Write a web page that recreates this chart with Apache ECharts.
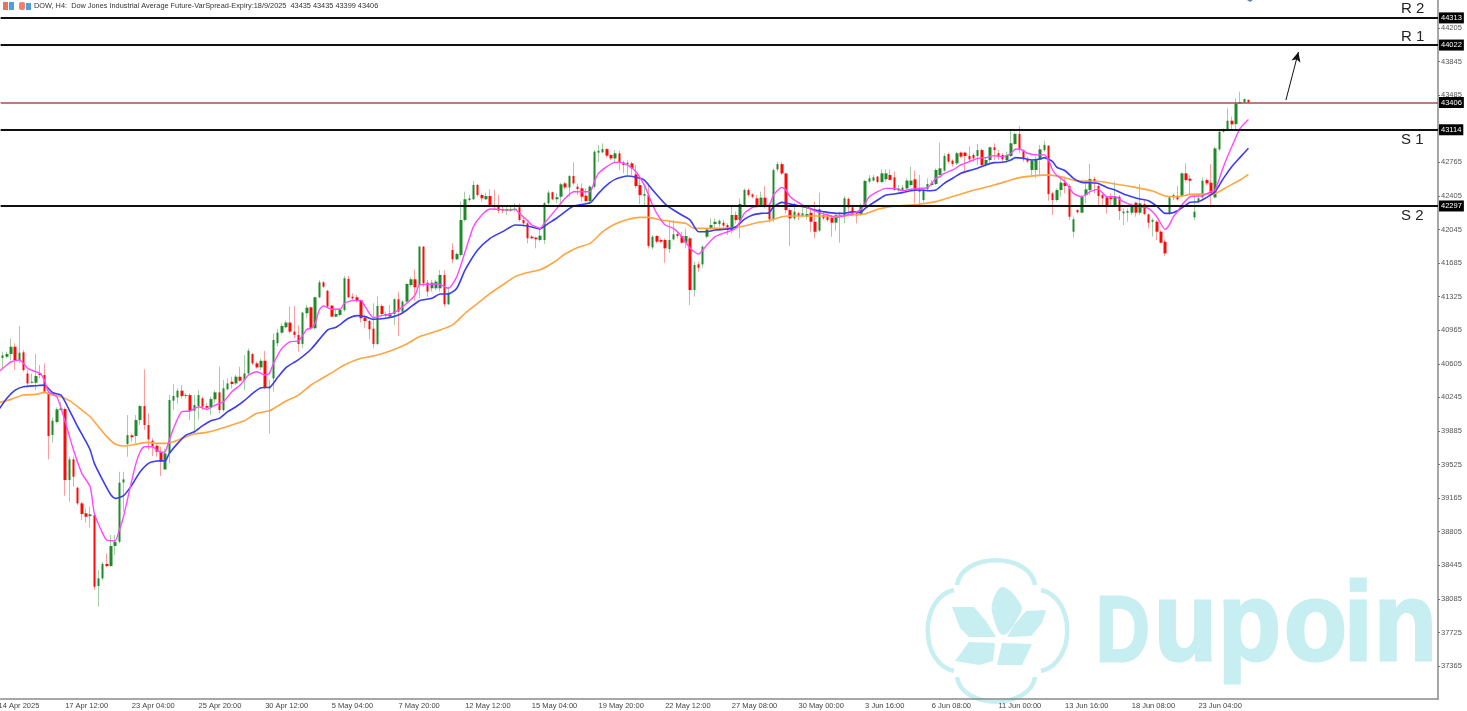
<!DOCTYPE html>
<html><head><meta charset="utf-8">
<style>html,body{margin:0;padding:0;background:#fff;overflow:hidden}#c{width:1467px;height:711px;filter:blur(.4px)}</style>
<script src="https://cdn.jsdelivr.net/npm/echarts@6/dist/echarts.min.js"></script>
</head><body><div id="c"></div>
<script>
const tickLabels=['14 Apr 2025','17 Apr 12:00','23 Apr 04:00','25 Apr 20:00','30 Apr 12:00','5 May 04:00','7 May 20:00','12 May 12:00','15 May 04:00','19 May 20:00','22 May 12:00','27 May 08:00','30 May 00:00','3 Jun 16:00','6 Jun 08:00','11 Jun 00:00','13 Jun 16:00','18 Jun 08:00','23 Jun 04:00'];
const priceTicks=[37365,37725,38085,38445,38805,39165,39525,39885,40245,40605,40965,41325,41685,42045,42405,42765,43125,43485,43845,44205];
const opens=[40667,40681,40710,40788,40645,40728,40502,40402,40402,40502,40485,40288,39842,39981,40109,40120,39359,39581,39277,39109,
39002,38973,38984,38223,38305,38459,38437,38652,38698,39334,39745,39838,39831,40002,40152,39949,39781,39727,39663,39473,
39645,40210,40245,40317,40260,40270,40102,40152,40235,40152,40138,40224,40299,40109,40331,40413,40395,40467,40431,40502,
40710,40610,40567,40638,40342,40449,40825,40939,40997,41047,40950,40914,40818,41147,41211,40986,41318,41479,41389,41229,
41111,41129,41182,41515,41325,41318,41289,41100,41064,40982,40818,41225,41122,41111,41139,41297,41164,41272,41450,41511,
41450,41861,41475,41415,41415,41415,41557,41243,41825,41725,41772,42147,42361,42369,42522,42415,42369,42404,42308,42290,
42261,42247,42247,42254,42283,42147,42111,41968,41958,41933,41933,42326,42444,42369,42396,42539,42496,42618,42504,42486,
42407,42350,42504,42868,42872,42907,42843,42807,42861,42764,42743,42754,42636,42521,42407,42414,41853,41975,41932,41932,
41835,41939,41996,41975,41903,41950,41396,41671,41671,41968,42057,42103,42103,42118,42093,42039,42200,42146,42307,42468,
42421,42378,42296,42386,42296,42153,42689,42746,42646,42253,42164,42218,42189,42182,42225,42128,42032,42200,42182,42171,
42118,42201,42183,42372,42283,42218,42208,42308,42558,42569,42612,42554,42583,42629,42604,42462,42469,42486,42522,42583,
42469,42361,42476,42522,42533,42629,42676,42854,42783,42754,42869,42869,42833,42844,42833,42897,42737,42790,42926,42862,
42844,42790,42833,42962,43069,42897,42797,42683,42683,42797,42897,42943,42432,42361,42468,42547,42511,42021,42254,42225,
42414,42468,42586,42511,42414,42389,42389,42296,42396,42218,42225,42225,42332,42225,42318,42207,42128,42128,42021,41914,
42211,42389,42407,42407,42647,42589,42175,42343,42389,42575,42546,42389,42904,43093,43111,43211,43175,43397,43408,43435];
const closes=[40695,40710,40788,40645,40724,40538,40395,40413,40474,40485,40306,39831,39995,40117,40127,39359,39581,39395,39109,38995,
38966,38991,38216,38305,38459,38437,38652,38698,39331,39366,39841,39817,40002,40152,39949,39795,39716,39663,39556,39645,
40217,40260,40317,40260,40270,40102,40163,40270,40145,40134,40227,40299,40109,40342,40395,40388,40467,40424,40502,40745,
40610,40567,40638,40352,40360,40860,40939,41011,41047,40950,40914,40818,41154,41207,40986,41318,41479,41432,41218,41111,
41139,41182,41522,41318,41307,41282,41093,41064,40975,40818,41225,41139,41139,41147,41297,41164,41272,41461,41511,41425,
41861,41468,41379,41475,41486,41557,41243,41368,41725,41783,42147,42369,42379,42522,42415,42379,42404,42308,42290,42247,
42247,42261,42261,42268,42147,42111,41951,41951,41940,41979,42326,42440,42369,42390,42529,42496,42618,42539,42479,42396,
42350,42504,42879,42889,42907,42836,42807,42861,42764,42736,42761,42700,42511,42414,42425,41868,41968,41914,41914,41843,
41932,41993,41975,41903,41975,41396,41664,41635,41860,42046,42093,42128,42139,42086,42039,42200,42146,42318,42468,42414,
42396,42296,42386,42296,42153,42682,42746,42646,42253,42164,42236,42189,42218,42211,42128,42021,42264,42164,42146,42118,
42200,42183,42379,42283,42201,42197,42308,42565,42594,42604,42554,42647,42647,42576,42469,42486,42494,42569,42569,42462,
42451,42469,42533,42540,42683,42701,42833,42772,42747,42862,42826,42833,42797,42808,42897,42737,42790,42926,42897,42826,
42797,42844,42969,43069,42897,42797,42772,42783,42797,42904,42951,42425,42361,42468,42547,42511,42182,42154,42229,42396,
42475,42586,42557,42404,42379,42307,42371,42396,42243,42236,42243,42307,42225,42325,42211,42118,42146,42021,41903,41789,
42389,42414,42368,42647,42575,42568,42236,42379,42568,42539,42414,42914,43093,43111,43211,43172,43397,43411,43443,43406];
const highs=[40735,40735,40878,40824,41010,40753,40538,40502,40710,40592,40610,40306,40031,40138,40199,40138,39609,39609,39288,39127,
39055,39073,39002,38394,38484,38573,38770,38770,39448,39448,40056,39852,40056,40163,40545,40074,39806,39745,39716,39699,
40270,40388,40342,40377,40288,40288,40270,40324,40252,40181,40252,40324,40574,40431,40449,40467,40485,40574,40699,40770,
40724,40628,40663,40745,40431,40931,40975,41039,41068,41218,41225,41021,41164,41236,41218,41325,41504,41493,41397,41236,
41182,41200,41547,41547,41361,41343,41297,41129,41075,41254,41325,41243,41164,41236,41307,41379,41289,41468,41532,41618,
41868,41868,41504,41504,41504,41611,41611,41432,41897,41797,42344,42451,42415,42565,42533,42433,42440,42476,42469,42415,
42290,42283,42283,42326,42326,42183,42129,41986,41968,42058,42344,42462,42451,42433,42546,42557,42629,42764,42539,42539,
42486,42521,42897,42950,42968,42914,42854,42897,42889,42782,42789,42771,42736,42611,42539,42539,41986,41986,41950,41950,
42146,42146,42021,42021,42057,41968,41700,41700,41878,42057,42164,42164,42153,42146,42111,42289,42236,42378,42486,42486,
42432,42414,42450,42511,42325,42700,42771,42771,42654,42271,42332,42236,42271,42289,42271,42343,42439,42236,42218,42200,
42218,42236,42404,42390,42308,42236,42326,42576,42629,42629,42619,42690,42690,42690,42665,42522,42522,42594,42719,42676,
42629,42486,42594,42576,42701,42976,42862,42869,42797,42880,42880,42876,42933,42862,42962,42915,42808,42933,42969,42897,
42862,42880,43112,43083,43155,42905,42826,42797,42826,42951,42997,42950,42450,42486,42611,42611,42532,42182,42261,42414,
42575,42747,42611,42539,42432,42396,42432,42557,42414,42271,42271,42325,42343,42532,42361,42218,42164,42146,42039,41939,
42404,42432,42511,42657,42754,42629,42414,42396,42604,42593,42747,42932,43111,43129,43343,43254,43450,43522,43450,43435];
const lows=[40556,40663,40645,40538,40610,40520,40377,40395,40324,40449,40288,39581,39759,39967,40109,39191,39127,39288,39091,38930,
38902,38852,38180,38001,38287,38423,38430,38555,38680,39020,39609,39770,39752,39949,39895,39681,39616,39609,39402,39466,
39538,40109,40181,40235,40235,40002,39859,40009,40109,40109,40056,40181,40074,40092,40324,40342,40377,40413,40324,40485,
40592,40556,40538,40331,39859,40306,40789,40925,40986,40932,40879,40736,40771,41093,40968,40975,41307,41415,41211,41104,
41104,41118,41164,41307,41289,41261,41047,40986,40868,40771,40807,41118,41093,41093,41021,40904,41139,41261,41432,41282,
41307,41432,41325,41379,41397,41379,41218,41236,41683,41718,41754,42129,42344,42361,42397,42344,42361,42290,42254,42218,
42218,42201,42236,42236,42129,42076,41897,41940,41843,41915,41890,42308,42361,42326,42307,42475,42396,42521,42414,42343,
42332,42332,42486,42772,42861,42818,42789,42754,42682,42646,42629,42629,42486,42318,42307,41843,41832,41896,41903,41689,
41796,41925,41950,41896,41843,41235,41324,41592,41639,41950,42039,42057,42075,42057,41986,42003,42111,41950,42289,42396,
42378,42282,42289,42271,42118,42128,42664,42629,42218,41868,42146,42146,42175,42153,42021,41950,42021,42146,42128,41968,
42032,41904,42111,42201,42183,42111,42190,42290,42540,42558,42540,42540,42558,42569,42462,42451,42462,42469,42504,42326,
42297,42333,42469,42504,42522,42612,42665,42754,42719,42737,42808,42654,42772,42772,42737,42726,42719,42754,42790,42790,
42772,42762,42819,42951,42862,42772,42754,42629,42594,42629,42880,42354,42200,42343,42396,42432,42146,41961,42218,42218,
42325,42414,42432,42296,42296,42218,42307,42289,42146,42093,42128,42200,42182,42200,42200,42057,41968,41932,41896,41764,
42200,42361,42354,42396,42557,42414,42146,42325,42379,42521,42282,42379,42890,43082,43104,43111,43118,43390,43397,43399];
const magentaBars=[0,2,3,5,6,7,9,10,11,12,14,16,18,20,22,23,25,26,28,29,30,32,33,34,35,37,38,39,40,41,42,44,46,48,50,52,54,56,58,60,62,64,65,66,68,70,72,74,75,76,77,78,80,82,83,85,87,88,90,92,94,96,98,100,101,103,105,106,108,110,112,114,116,118,120,122,124,125,127,128,130,131,133,134,136,138,140,142,143,144,146,148,149,151,153,155,156,157,158,160,162,164,166,168,170,172,175,177,179,181,183,185,186,188,189,190,192,194,197,199,201,205,207,208,209,211,213,215,217,219,221,223,225,226,227,229,231,233,235,237,239,241,243,244,245,247,249,251,252,253,254,256,258,260,262,264,266,268,270,272,274,276,278,280,281,282,283,284,286,289,291,292,294,296,298,300];
const magentaVals=[40520,40592,40627,40645,40610,40556,40520,40502,40431,40306,40252,39984,39681,39431,39288,39002,38787,38716,38709,38823,38966,39359,39538,39663,39716,39716,39681,39656,39663,39788,39913,40092,40099,40145,40117,40163,40199,40306,40377,40485,40520,40485,40502,40610,40770,40842,40850,40975,40986,41039,41182,41225,41190,41190,41254,41282,41282,41218,41100,41122,41136,41182,41254,41343,41450,41457,41461,41457,41415,41540,41808,42076,42201,42265,42261,42254,42261,42218,42140,42093,42058,42111,42218,42271,42379,42450,42450,42450,42557,42646,42718,42764,42764,42736,42664,42521,42414,42307,42218,42093,42057,41968,41843,41782,41878,41968,42021,42057,42218,42282,42296,42307,42414,42496,42468,42396,42332,42282,42225,42200,42175,42218,42261,42326,42397,42451,42486,42486,42461,42476,42486,42494,42594,42612,42647,42683,42737,42772,42808,42815,42837,42826,42862,42905,42908,42862,42844,42845,42790,42683,42625,42557,42432,42396,42450,42475,42396,42396,42343,42307,42289,42271,42182,42046,42093,42182,42236,42307,42396,42407,42450,42468,42718,42932,43129,43225];
const blueBars=[0,2,4,6,9,11,13,15,17,19,21,22,23,25,27,28,30,32,34,36,38,40,41,43,45,47,49,51,53,55,57,59,61,63,65,67,69,72,75,79,81,84,86,88,90,93,96,98,101,104,106,108,110,112,115,118,121,124,127,130,132,134,138,142,144,146,148,151,153,155,157,160,161,164,166,168,170,172,175,177,179,181,183,185,186,188,190,192,194,196,198,201,203,205,207,208,211,213,215,217,219,221,223,225,227,229,231,233,235,237,239,241,243,244,246,248,250,251,253,254,256,258,260,262,264,266,268,270,272,274,276,278,280,281,283,285,286,288,290,292,294,296,298,300];
const blueVals=[40109,40235,40324,40360,40370,40377,40295,40270,40109,39931,39770,39681,39538,39359,39198,39163,39191,39305,39448,39538,39563,39566,39645,39752,39841,39877,39942,39995,40020,40092,40145,40210,40288,40349,40352,40460,40565,40650,40761,40968,40997,41093,41122,41111,41082,41093,41129,41182,41282,41307,41354,41354,41415,41611,41825,41950,42022,42093,42083,42051,42111,42168,42296,42332,42432,42521,42582,42618,42604,42575,42468,42318,42282,42200,42146,42021,42021,42039,42050,42075,42153,42200,42218,42225,42289,42336,42318,42300,42282,42253,42236,42218,42218,42236,42229,42272,42361,42415,42426,42440,42461,42469,42461,42469,42540,42594,42647,42676,42701,42737,42762,42765,42790,42815,42808,42790,42801,42815,42772,42712,42675,42593,42550,42547,42539,42496,42468,42425,42396,42371,42354,42296,42218,42218,42246,42307,42336,42343,42389,42450,42593,42718,42818,42915];
const orangeBars=[0,3,6,9,11,13,15,17,19,22,24,26,28,30,32,34,36,38,40,42,44,47,50,53,56,59,62,65,67,69,72,75,77,80,83,87,90,94,98,101,106,109,112,115,118,121,124,127,130,133,136,139,142,145,148,151,154,156,159,162,165,167,170,173,176,179,182,185,188,190,193,197,201,205,208,211,214,217,221,225,227,231,235,239,243,245,249,252,256,259,262,265,268,271,274,277,280,283,286,289,292,295,298,300];
const orangeVals=[40188,40224,40270,40277,40299,40270,40252,40210,40145,40038,39931,39824,39745,39724,39734,39752,39763,39752,39752,39770,39806,39852,39870,39906,39949,39995,40074,40102,40152,40206,40270,40378,40432,40511,40593,40664,40689,40743,40818,40896,40968,41022,41147,41254,41361,41450,41540,41583,41614,41686,41782,41853,41896,42021,42103,42153,42175,42175,42146,42128,42110,42057,42057,42057,42064,42082,42118,42139,42182,42189,42189,42189,42186,42201,42211,42261,42290,42301,42315,42344,42369,42426,42476,42522,42576,42601,42622,42630,42600,42564,42564,42557,42532,42511,42486,42457,42404,42396,42421,42425,42432,42504,42575,42636];
const levels=[{name:'R 2',v:44313},{name:'R 1',v:44022},{name:'S 1',v:43114},{name:'S 2',v:42297}];
const lastPrice=43406;
const arrowFrom=[309,43433], arrowTo=[312,43948];
const headerText='DOW, H4:  Dow Jones Industrial Average Future-VarSpread-Expiry:18/9/2025  43435 43435 43399 43406';

const N=346;
const categories=[];
for(let i=0;i<N;i++) categories.push(i%16===0&&tickLabels[i/16]?tickLabels[i/16]:'');
const wicks=[['-','-','-','-']], bodies=[['-','-','-','-']];
opens.forEach((o,k)=>{
  const c=closes[k];
  wicks.push([o,c,lows[k],highs[k]]);
  bodies.push([o,c,Math.min(o,c),Math.max(o,c)]);
});
const pair=(xs,ys)=>xs.map((x,k)=>[x,ys[k]]);
const wm='#c7eef1';
const font='"Liberation Sans",Arial,sans-serif';
const tag={show:true,position:'end',distance:1,formatter:p=>String(p.value),color:'#fff',backgroundColor:'#000',fontSize:7.5,fontFamily:font,padding:[2,2,1,2]};
const letters=[['D',1096,93,.8],['u',1154,112,.92],['p',1218,112,.92],['o',1284,112,.92],['i',1344,112,.92],['n',1374,112,.92]];
const arcs=[[957,585,962,552,1030,552,1035,585],[1041,590,1076,598,1076,663,1041,671],[957,677,962,710,1030,710,1035,677],[954,590,919,598,919,663,954,671]];
const petals=[[[1003,587],[1021,605],[1019,616],[1003,635],[993,616],[993,600]],[[952,607],[974,607],[986,621],[996,637],[969,637],[960,628]],[[1046,610],[1026,611],[1014,625],[1007,637],[1031,636],[1042,623]],[[995,643],[969,642],[955,661],[979,665],[993,661]],[[1032,644],[1002,643],[997,665],[1022,665]]];
const graphic=[
 {type:'rect',shape:{x:3,y:2,width:5,height:8},style:{fill:'#e9735e'},silent:true},
 {type:'rect',shape:{x:9,y:2,width:5,height:8},style:{fill:'#4f9fdc'},silent:true},
 {type:'rect',shape:{x:19,y:2,width:6,height:8,r:2},style:{fill:'#f0806a'},silent:true},
 {type:'rect',shape:{x:26,y:3,width:5,height:7},style:{fill:'#4f9fdc'},silent:true},
 {type:'polygon',shape:{points:[[1247,0],[1253,0],[1250,2]]},style:{fill:'#6a7fa8'},silent:true},
 {type:'text',x:34,y:2,style:{text:headerText,font:'7.35px '+font,fill:'#333'},silent:true},
 {type:'text',x:-1.5,y:702,style:{text:tickLabels[0],font:'7.5px '+font,fill:'#444'},silent:true},
 ...levels.map((l,k)=>({type:'text',x:1401,y:[1,29,132,208][k],style:{text:l.name,font:'15px '+font,fill:'#222'},silent:true})),
 ...arcs.map(a=>({type:'bezierCurve',z:-1,shape:{x1:a[0],y1:a[1],cpx1:a[2],cpy1:a[3],cpx2:a[4],cpy2:a[5],x2:a[6],y2:a[7]},style:{fill:null,stroke:wm,lineWidth:4.5},silent:true})),
 ...petals.map((p,k)=>({type:'polygon',z:-1,shape:{points:p,smooth:k===0?.4:0},style:{fill:wm},silent:true})),
 ...letters.map(l=>({type:'text',z:-1,x:l[1],y:663-0.8*l[2],scaleX:l[3],style:{text:l[0],font:'bold '+l[2]+'px '+font,fill:wm,stroke:wm,lineWidth:3},silent:true}))
];
const chart=echarts.init(document.getElementById('c'),null,{renderer:'canvas'});
chart.setOption({
 animation:false,backgroundColor:'#fff',
 grid:{left:0.6,right:29,top:0,height:699},
 xAxis:{type:'category',data:categories,boundaryGap:true,min:1,
  axisLine:{lineStyle:{color:'#8a8a8a',width:1.5}},
  axisTick:{alignWithLabel:true,length:3,lineStyle:{color:'#777'},interval:(i,v)=>v!==''},
  axisLabel:{interval:(i,v)=>v!=='',align:'left',fontSize:7.5,fontFamily:font,color:'#444',margin:3},
  splitLine:{show:false}},
 yAxis:{type:'value',position:'right',min:37012,max:44505,
  axisLine:{show:true,onZero:false,lineStyle:{color:'#8a8a8a',width:1.5}},
  axisTick:{show:true,length:2,lineStyle:{color:'#777'},customValues:priceTicks},
  axisLabel:{fontSize:7.5,fontFamily:font,color:'#555',margin:3,customValues:priceTicks,formatter:v=>String(v)},
  splitLine:{show:false}},
 tooltip:{show:false},
 series:[
  {type:'candlestick',name:'wicks',data:wicks,barWidth:1,silent:true,z:2,
   itemStyle:{color:'#a4cfa4',color0:'#ff9e9e',borderColor:'#a4cfa4',borderColor0:'#ff9e9e',borderWidth:1},
   markLine:{silent:true,symbol:['none','arrow'],symbolSize:[7,10],animation:false,
    lineStyle:{color:'#111',width:1,type:'solid'},label:{show:false},
    data:[[{coord:arrowFrom},{coord:arrowTo}]]}},
  {type:'candlestick',name:'bodies',data:bodies,barWidth:3,silent:true,z:3,
   itemStyle:{color:'#1f8a2a',color0:'#ff0808',borderColor:'#1f8a2a',borderColor0:'#ff0808',borderWidth:0},
   markLine:{silent:true,symbol:'none',animation:false,z:9,
    data:[...levels.map(l=>({yAxis:l.v,lineStyle:{color:'#111',width:2,type:'solid'},label:tag})),
          {yAxis:lastPrice,lineStyle:{color:'#a84f4f',width:1.5,type:'solid'},label:tag}]}},
  {type:'line',name:'orange',data:pair(orangeBars,orangeVals),showSymbol:false,smooth:.2,silent:true,z:4,lineStyle:{color:'#ffa544',width:1.6}},
  {type:'line',name:'blue',data:pair(blueBars,blueVals),showSymbol:false,smooth:.2,silent:true,z:5,lineStyle:{color:'#3c3cf0',width:1.6}},
  {type:'line',name:'magenta',data:pair(magentaBars,magentaVals),showSymbol:false,smooth:.2,silent:true,z:6,lineStyle:{color:'#ff48ff',width:1.4}}
 ],
 graphic
});
</script></body></html>
